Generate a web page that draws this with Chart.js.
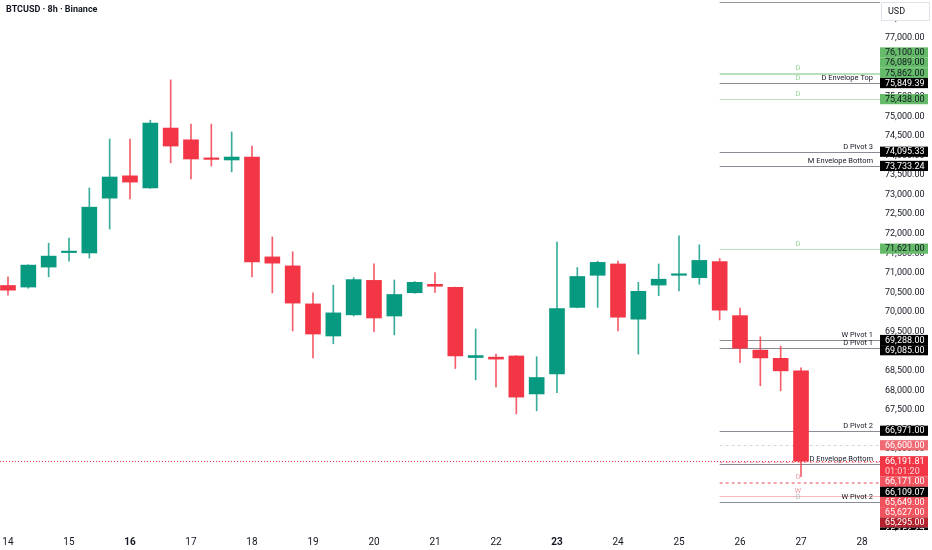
<!DOCTYPE html>
<html>
<head>
<meta charset="utf-8">
<script src="https://cdn.jsdelivr.net/npm/chart.js@4.4.1/dist/chart.umd.min.js"></script>
<style>
  html, body { margin: 0; padding: 0; background: #fff; }
  canvas { display: block; }
</style>
</head>
<body>
<canvas id="chart" width="932" height="550"></canvas>
<script>
// BTCUSD 8h candles, 14th 00:00 onwards (3 bars per day)
const title = 'BTCUSD · 8h · Binance';
const firstDay = 14;
const opens  = [70680, 70640, 71150, 71520, 71510, 72910, 73480, 73170, 74700, 74400,
                73935, 73885, 73960, 71410, 71180, 70210, 69390, 69930, 70810, 69900,
                70495, 70710, 70630, 68840, 68850, 68880, 67910, 68420, 70120, 70940,
                71230, 69820, 70690, 70940, 70880, 71290, 69910, 69030, 68820, 68500];
const highs  = [70900, 71210, 71760, 71890, 73170, 74420, 74420, 74900, 75930, 74800,
                74800, 74600, 74240, 71920, 71540, 70490, 70690, 70880, 71230, 70820,
                70780, 71010, 70640, 69570, 68930, 68890, 68860, 71790, 71140, 71300,
                71300, 70760, 71230, 71950, 71720, 71370, 70100, 69370, 69130, 68580];
const lows   = [70430, 70610, 70900, 71300, 71380, 72120, 72890, 73160, 73810, 73400,
                73730, 73580, 70900, 70490, 69520, 68830, 69190, 69900, 69500, 69420,
                70480, 70500, 68560, 68270, 68090, 67400, 67480, 67940, 70110, 70120,
                69520, 68930, 70420, 70540, 70710, 69800, 68710, 68120, 67990, 65800];
const closes = [70560, 71200, 71430, 71545, 72680, 73450, 73320, 74830, 74240, 73910,
                73900, 73960, 71280, 71250, 70230, 69440, 69980, 70830, 69850, 70450,
                70760, 70660, 68880, 68890, 68800, 67830, 68330, 70090, 70910, 71270,
                69870, 70530, 70840, 70960, 71320, 70050, 69080, 68830, 68500, 66191.81];
const boldDays = [16, 23];
const countdown = '01:01:20';
const priceTicks = [64500, 65000, 65500, 66000, 66500, 67000, 67500, 68000, 68500, 69000,
                    69500, 70000, 70500, 71000, 71500, 72000, 72500, 73000, 73500, 74000,
                    74500, 75000, 75500, 76000, 76500, 77000, 77500];

// horizontal levels (indicator lines + price-axis labels)
const levelPrices = [77920, 76100, 76089, 75862, 75849.39, 75438, 74095.33, 73733.24, 71621,
                     69288, 69085, 66971, 66600, 66171, 66109.07, 65649, 65627, 65295, 65156.67];
const levelNames  = ['', '', '', '', 'D Envelope Top', '', 'D Pivot 3', 'M Envelope Bottom', '',
                     'W Pivot 1', 'D Pivot 1', 'D Pivot 2', '', '', 'D Envelope Bottom', '', '', '', 'W Pivot 2'];
const levelTags   = ['', 'D', '', 'D', '', 'D', '', '', 'D',
                     '', '', '', '', '', '', 'D', '', 'W', 'D'];
const levelKinds  = ['none', 'green', 'green', 'green', 'black', 'green', 'black', 'black', 'green',
                     'black', 'black', 'black', 'lightred', 'red', 'black', 'red', 'red', 'darkred', 'black'];
const anchoredPrices = [75849.39];

const FONT = 'Roboto, "Noto Sans", sans-serif';
const UP = '#089981', DOWN = '#f23645';
const kindStyle = {
  none:     { line: '#9598a1', dash: [] },
  green:    { line: '#b9e0bb', dash: [], bg: '#66bb6a', fg: '#131722', tag: '#8fcf92' },
  black:    { line: '#8a8d96', dash: [], bg: '#000000', fg: '#ffffff' },
  red:      { line: '#f5a3aa', dash: [3, 3], bg: '#f0525e', fg: '#ffffff', tag: '#f29aa2' },
  lightred: { line: '#d6d6d9', dash: [3, 3], bg: '#f06a74', fg: '#ffffff' },
  darkred:  { line: '#f5b9bd', dash: [], bg: '#b2222e', fg: '#ffffff', tag: '#f29aa2' },
  last:     { bg: '#f23645', fg: '#ffffff' }
};

const fmt = v => v.toLocaleString('en-US', { minimumFractionDigits: 2, maximumFractionDigits: 2 });

const barDays = opens.map((_, i) => firstDay + i / 3);
const bodies = opens.map((o, i) => ({ x: barDays[i], y: [o, closes[i]] }));
const wicks = opens.map((o, i) => ({ x: barDays[i], y: [lows[i], highs[i]] }));
const colors = opens.map((o, i) => closes[i] >= o ? UP : DOWN);
const wickColors = colors.map(c => c + 'cc');

const levelStartDay = 25 + 2 / 3;
const tagDay = 26.95;

const overlay = {
  id: 'overlay',
  beforeDatasetsDraw(chart) {
    const { ctx, chartArea, scales } = chart;
    const xs = scales.x, ys = scales.y;
    const x0 = xs.getPixelForValue(levelStartDay);
    const xt = xs.getPixelForValue(tagDay);
    ctx.save();
    levelPrices.forEach((p, i) => {
      const st = kindStyle[levelKinds[i]];
      const y = Math.round(ys.getPixelForValue(p)) + 0.5;
      ctx.strokeStyle = st.line;
      ctx.lineWidth = 1;
      ctx.setLineDash(st.dash);
      ctx.beginPath();
      ctx.moveTo(x0, y);
      ctx.lineTo(chartArea.right, y);
      ctx.stroke();
      ctx.setLineDash([]);
      if (levelTags[i]) {
        ctx.font = '7px ' + FONT;
        ctx.fillStyle = st.tag || '#b2b5be';
        ctx.textAlign = 'center';
        ctx.textBaseline = 'middle';
        ctx.fillText(levelTags[i], xt, y - 5);
      }
    });
    // last price line across the chart
    const last = closes[closes.length - 1];
    const yl = Math.round(ys.getPixelForValue(last)) + 0.5;
    ctx.strokeStyle = DOWN;
    ctx.setLineDash([1, 2]);
    ctx.beginPath();
    ctx.moveTo(chartArea.left, yl);
    ctx.lineTo(chartArea.right, yl);
    ctx.stroke();
    ctx.restore();
  },
  afterDatasetsDraw(chart) {
    const { ctx, chartArea, scales } = chart;
    const ys = scales.y;
    ctx.save();
    ctx.font = '7.5px ' + FONT;
    ctx.fillStyle = '#131722';
    ctx.textAlign = 'right';
    ctx.textBaseline = 'middle';
    levelPrices.forEach((p, i) => {
      if (!levelNames[i]) return;
      const y = Math.round(ys.getPixelForValue(p)) + 0.5;
      ctx.fillText(levelNames[i], chartArea.right - 7, y - 5);
    });
    ctx.restore();
  },
  afterDraw(chart) {
    const { ctx, chartArea, scales, width } = chart;
    const ys = scales.y;
    const H = 10.2;
    const items = [];
    levelPrices.forEach((p, i) => {
      if (levelKinds[i] === 'none') return;
      items.push({ price: p, kind: levelKinds[i], rows: 1, anchor: anchoredPrices.includes(p) });
    });
    const last = closes[closes.length - 1];
    items.push({ price: last, kind: 'last', rows: 2, anchor: true });
    items.sort((a, b) => b.price - a.price);
    items.forEach(it => { it.y = ys.getPixelForValue(it.price); });
    const first = items.findIndex(it => it.anchor);
    for (let i = first - 1; i >= 0; i--) {
      const nx = items[i + 1];
      items[i].y = Math.min(items[i].y, nx.y - H / 2 - items[i].rows * H + H / 2);
    }
    for (let i = first + 1; i < items.length; i++) {
      if (items[i].anchor) continue;
      const pv = items[i - 1];
      items[i].y = Math.max(items[i].y, pv.y - H / 2 + pv.rows * H + H / 2);
    }

    ctx.save();
    ctx.beginPath();
    ctx.rect(chartArea.right, 0, width - chartArea.right, chartArea.bottom);
    ctx.clip();
    const bx = chartArea.right, bw = 48;
    ctx.font = '9px ' + FONT;
    ctx.textAlign = 'left';
    ctx.textBaseline = 'middle';
    items.forEach(it => {
      const st = kindStyle[it.kind];
      const top = it.y - H / 2;
      ctx.fillStyle = st.bg;
      ctx.fillRect(bx, top, bw, it.rows * H);
      ctx.fillStyle = st.fg;
      ctx.fillText(fmt(it.price), bx + 5, it.y + 0.5);
      if (it.kind === 'last') {
        ctx.fillStyle = '#fbd0d4';
        ctx.fillText(countdown, bx + 5, it.y + H + 0.5);
      }
    });
    ctx.restore();

    // currency box
    ctx.save();
    ctx.fillStyle = '#ffffff';
    ctx.fillRect(chartArea.right + 1, 2, 49, 19);
    ctx.strokeStyle = '#e0e3eb';
    ctx.strokeRect(chartArea.right + 1.5, 2.5, 48, 18);
    ctx.fillStyle = '#131722';
    ctx.font = '9px ' + FONT;
    ctx.textAlign = 'left';
    ctx.textBaseline = 'middle';
    ctx.fillText('USD', chartArea.right + 8, 11.5);

    // title
    ctx.font = 'bold 9px ' + FONT;
    ctx.fillText(title, 6, 10);
    ctx.restore();
  }
};

const noPad = s => { s.paddingTop = 0; s.paddingBottom = 0; s.paddingLeft = 0; s.paddingRight = 0; };

new Chart(document.getElementById('chart'), {
  type: 'bar',
  data: {
    datasets: [
      { label: 'body', data: bodies, backgroundColor: colors, barThickness: 15,
        minBarLength: 1.5, grouped: false, order: 0, borderWidth: 0 },
      { label: 'wick', data: wicks, backgroundColor: wickColors, barThickness: 1,
        grouped: false, order: 1, borderWidth: 0 }
    ]
  },
  options: {
    responsive: false,
    animation: false,
    events: [],
    layout: { padding: 0 },
    plugins: { legend: { display: false }, tooltip: { enabled: false } },
    scales: {
      x: {
        type: 'linear',
        min: 13.869,
        max: 28.295,
        offset: false,
        grid: { display: false, drawTicks: false },
        border: { display: false },
        ticks: {
          stepSize: 1,
          includeBounds: false,
          autoSkip: false,
          maxRotation: 0,
          padding: 6,
          color: '#131722',
          font: ctx => ({ family: FONT, size: 10,
            weight: ctx.tick && boldDays.includes(ctx.tick.value) ? 'bold' : 'normal' }),
          callback: v => String(v)
        },
        afterFit: s => { s.height = 20; noPad(s); }
      },
      y: {
        position: 'right',
        min: 64436,
        max: 77970,
        grid: { display: false, drawTicks: false },
        border: { display: false },
        afterBuildTicks: s => { s.ticks = priceTicks.map(v => ({ value: v })); },
        ticks: {
          autoSkip: false,
          padding: 5,
          color: '#131722',
          font: { family: FONT, size: 9 },
          callback: v => fmt(v)
        },
        afterFit: s => { s.width = 52; noPad(s); }
      }
    }
  },
  plugins: [overlay]
});
</script>
</body>
</html>
